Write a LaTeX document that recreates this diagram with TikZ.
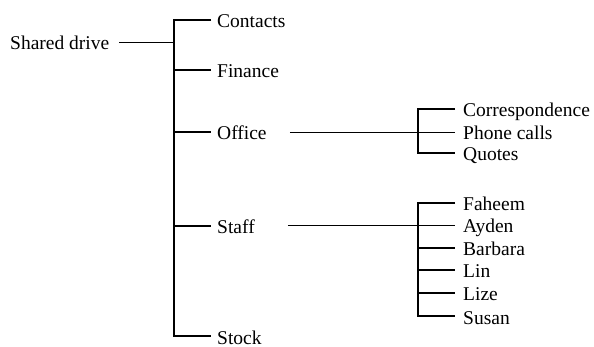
\documentclass[tikz,border=0pt]{standalone}
\usepackage{fontspec}
\setmainfont{Liberation Serif}
\begin{document}
\begin{tikzpicture}[x=1pt,y=-1pt,
  every node/.style={font=\fontsize{19.5}{22}\selectfont, inner ysep=0pt, text height=16pt, text depth=0pt, anchor=west},
  lone/.style={inner xsep=6pt},
  ltwo/.style={inner xsep=8pt},
  trunk/.style={line width=1.5pt},
  branch/.style={line width=1.1pt},
  thin/.style={line width=0.8pt}]
\useasboundingbox (0,0) rectangle (594,347);
% root
\node[inner xsep=0pt] (root) at (10,42) {Shared drive};
% level 1
\node[lone] (contacts) at (211,20) {Contacts};
\node[lone] (finance) at (211,70) {Finance};
\node[lone] (office) at (211,132) {Office};
\node[lone] (staff) at (211,226) {Staff};
\node[lone] (stock) at (211,336) {Stock};
% office children
\node[ltwo] (corr) at (455,109) {Correspondence};
\node[ltwo] (phone) at (455,132) {Phone calls};
\node[ltwo] (quotes) at (455,153) {Quotes};
% staff children
\node[ltwo] (faheem) at (455,203) {Faheem};
\node[ltwo] (ayden) at (455,225) {Ayden};
\node[ltwo] (barbara) at (455,248) {Barbara};
\node[ltwo] (lin) at (455,270) {Lin};
\node[ltwo] (lize) at (455,293) {Lize};
\node[ltwo] (susan) at (455,316) {Susan};
% junctions
\coordinate (jt) at (174,20);
\coordinate (jb) at (174,336);
\coordinate (ot) at (418,109);
\coordinate (ob) at (418,153);
\coordinate (st) at (418,203);
\coordinate (sb) at (418,316);
% main tree
\draw[trunk] (contacts.west) -- (jt) -- (jb) -- (stock.west);
\draw[thin] ([xshift=10pt]root.east) -- (jt |- root.west);
\draw[branch] (jt |- finance.west) -- (finance.west);
\draw[branch] (jt |- office.west) -- (office.west);
\draw[branch] (jt |- staff.west) -- (staff.west);
% office subtree
\draw[thin] ([xshift=17pt]office.east) -- (phone.west);
\draw[branch] (corr.west) -- (ot) -- (ob) -- (quotes.west);
% staff subtree
\draw[thin] ([xshift=27pt]staff.east |- ayden.west) -- (ayden.west);
\draw[branch] (faheem.west) -- (st) -- (sb) -- (susan.west);
\draw[branch] (st |- barbara.west) -- (barbara.west);
\draw[branch] (st |- lin.west) -- (lin.west);
\draw[branch] (st |- lize.west) -- (lize.west);
\end{tikzpicture}
\end{document}
